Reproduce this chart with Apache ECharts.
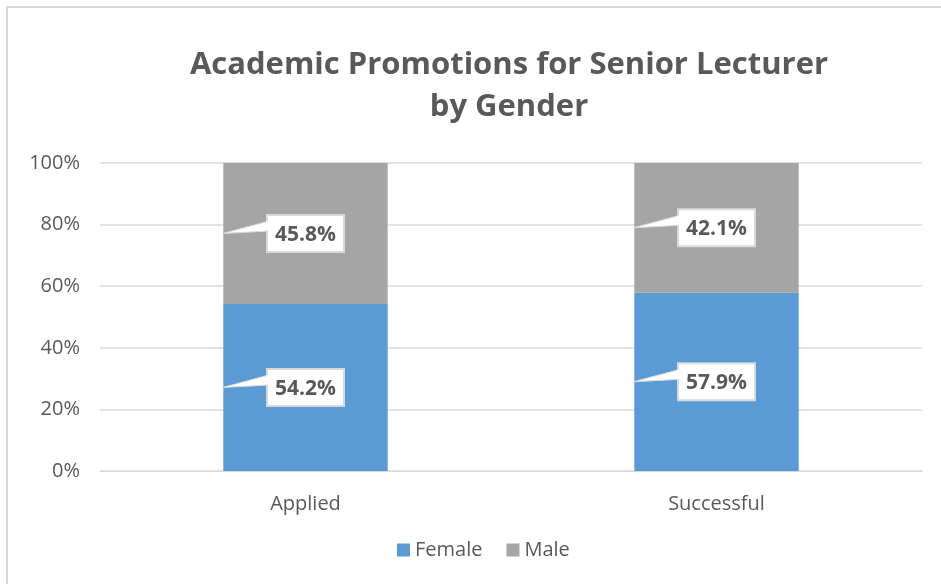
<!DOCTYPE html>
<html>
<head>
<meta charset="utf-8">
<script src="https://cdn.jsdelivr.net/npm/echarts@6/dist/echarts.min.js"></script>
<style>
  html, body { margin: 0; padding: 0; background: #fff; }
  #chart { width: 941px; height: 584px; }
</style>
</head>
<body>
<div id="chart"></div>
<script>
// 数据
const categories = ["Applied", "Successful"];
const femaleData = [54.2, 57.9];
const maleData = [45.8, 42.1];
const yTicks = [0, 20, 40, 60, 80, 100];

const FONT = "'Open Sans', 'Liberation Sans', sans-serif";
const TEXT_COLOR = "#595959";

const chart = echarts.init(document.getElementById("chart"), null, { renderer: "canvas" });

// 标注框（带尖角）用 custom 系列画
function calloutSeries(name, values, base) {
  return {
    name: name + "-label",
    type: "custom",
    z: 10,
    silent: true,
    data: values.map((v, i) => [i, v, base[i]]),
    renderItem(params, api) {
      const idx = api.value(0);
      const v = api.value(1);
      const b = api.value(2);
      const top = api.coord([idx, b + v]);
      const bottom = api.coord([idx, b]);
      const size = api.size([1, 0]);
      const barW = size[0] * 0.4;
      const cx = top[0];
      const midY = (top[1] + bottom[1]) / 2;
      const tipX = cx - barW / 2 - 1;
      const boxW = 77, boxH = 37;
      const bx = cx - boxW / 2, by = midY - boxH / 2;
      return {
        type: "group",
        children: [
          {
            type: "polygon",
            shape: { points: [[tipX, midY], [bx + 2, by + 6], [bx + 2, by + 16]] },
            style: { fill: "#fff", stroke: "#d9d9d9", lineWidth: 1 }
          },
          {
            type: "rect",
            shape: { x: bx, y: by, width: boxW, height: boxH },
            style: { fill: "#fff", stroke: "#d9d9d9", lineWidth: 2 }
          },
          {
            type: "rect",
            shape: { x: bx - 1.5, y: by + 6.5, width: 5, height: 9 },
            style: { fill: "#fff" }
          },
          {
            type: "text",
            style: {
              x: bx + boxW / 2, y: by + boxH / 2 + 1,
              text: v.toFixed(1) + "%",
              align: "center", verticalAlign: "middle",
              fill: TEXT_COLOR,
              font: "bold 21px " + FONT
            }
          }
        ]
      };
    }
  };
}

chart.setOption({
  backgroundColor: "#fff",
  animation: false,
  graphic: [{
    type: "rect",
    shape: { x: 7, y: 7, width: 1000, height: 1000 },
    style: { fill: "none", stroke: "#d9d9d9", lineWidth: 2 }
  }],
  title: {
    text: "Academic Promotions for Senior Lecturer\nby Gender",
    left: 504,
    top: 39,
    textAlign: "center",
    textStyle: {
      fontFamily: FONT,
      fontSize: 31,
      fontWeight: "bold",
      color: TEXT_COLOR,
      lineHeight: 42
    }
  },
  legend: {
    bottom: 19,
    left: 392,
    itemWidth: 13,
    itemHeight: 13,
    itemGap: 24,
    icon: "rect",
    textStyle: { fontFamily: FONT, fontSize: 20, color: TEXT_COLOR },
    data: ["Female", "Male"]
  },
  grid: {
    left: 100,
    right: 19,
    top: 163,
    bottom: 113
  },
  xAxis: {
    type: "category",
    data: categories,
    axisLine: { show: true, lineStyle: { color: "#d9d9d9", width: 1 } },
    axisTick: { show: false },
    axisLabel: { fontFamily: FONT, fontSize: 20, color: TEXT_COLOR, margin: 23 }
  },
  yAxis: {
    type: "value",
    min: yTicks[0],
    max: yTicks[yTicks.length - 1],
    interval: 20,
    axisLine: { show: false },
    axisTick: { show: false },
    axisLabel: {
      fontFamily: FONT, fontSize: 20, color: TEXT_COLOR, margin: 20,
      formatter: v => v + "%"
    },
    splitLine: { lineStyle: { color: "#d9d9d9", width: 1.5 } }
  },
  series: [
    {
      name: "Female",
      type: "bar",
      stack: "total",
      barWidth: "40%",
      itemStyle: { color: "#5B9BD5" },
      data: femaleData
    },
    {
      name: "Male",
      type: "bar",
      stack: "total",
      barWidth: "40%",
      itemStyle: { color: "#A5A5A5" },
      data: maleData
    },
    calloutSeries("Female", femaleData, [0, 0]),
    calloutSeries("Male", maleData, femaleData)
  ]
});
</script>
</body>
</html>
